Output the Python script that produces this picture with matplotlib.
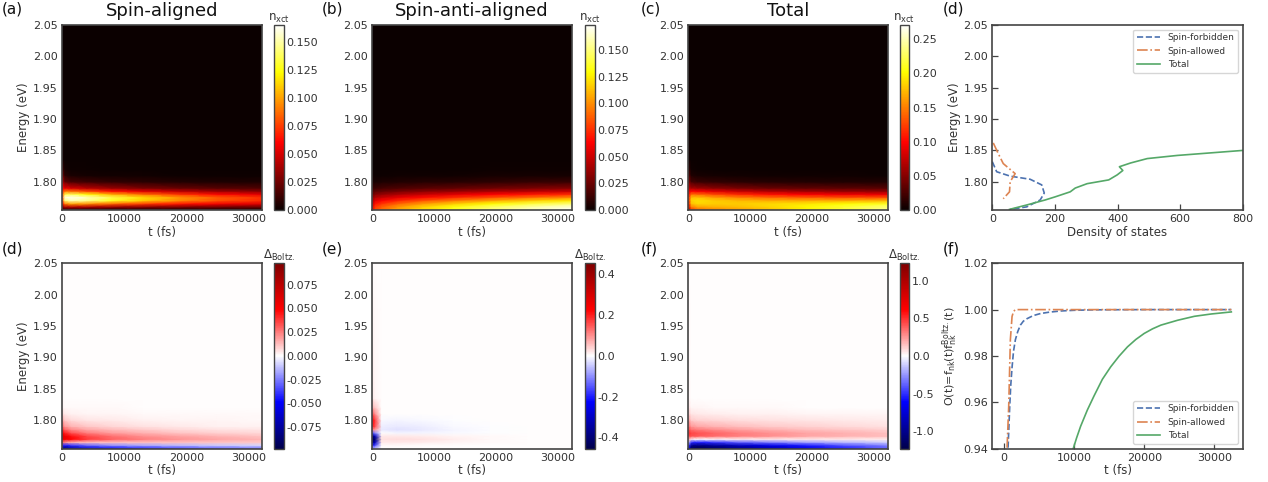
import numpy as np
import matplotlib
matplotlib.use('Agg')
import matplotlib.pyplot as plt
from matplotlib.ticker import FormatStrFormatter

plt.rcParams['font.family'] = ['DejaVu Sans']
plt.rcParams['axes.unicode_minus'] = True

W, H = 1268, 482
TXT = '#333333'
SP = '#444444'

# ---------------- data ----------------
t_nodes = [0, 500, 1500, 4000, 8000, 13000, 19000, 25000, 32200]
E_nodes = [1.755, 1.760, 1.765, 1.770, 1.775, 1.780, 1.785, 1.790,
           1.800, 1.810, 1.820, 1.835, 2.05]

n_aligned = [
    [0.010, 0.008, 0.006, 0.005, 0.004, 0.004, 0.004, 0.004, 0.004],
    [0.030, 0.040, 0.042, 0.040, 0.036, 0.032, 0.029, 0.026, 0.024],
    [0.060, 0.090, 0.100, 0.095, 0.085, 0.075, 0.065, 0.057, 0.052],
    [0.080, 0.140, 0.152, 0.145, 0.128, 0.110, 0.093, 0.080, 0.070],
    [0.085, 0.160, 0.163, 0.155, 0.135, 0.115, 0.097, 0.083, 0.072],
    [0.080, 0.135, 0.138, 0.125, 0.105, 0.088, 0.073, 0.062, 0.054],
    [0.070, 0.090, 0.088, 0.078, 0.064, 0.053, 0.044, 0.037, 0.032],
    [0.060, 0.055, 0.050, 0.043, 0.035, 0.028, 0.023, 0.019, 0.017],
    [0.045, 0.022, 0.016, 0.013, 0.010, 0.008, 0.006, 0.005, 0.005],
    [0.030, 0.008, 0.004, 0.003, 0.002, 0.002, 0.001, 0.001, 0.001],
    [0.015, 0.003, 0.001, 0.001, 0.000, 0.000, 0.000, 0.000, 0.000],
    [0.004, 0.000, 0.000, 0.000, 0.000, 0.000, 0.000, 0.000, 0.000],
    [0.000, 0.000, 0.000, 0.000, 0.000, 0.000, 0.000, 0.000, 0.000],
]

n_anti = [
    [0.060, 0.080, 0.090, 0.105, 0.120, 0.135, 0.150, 0.162, 0.172],
    [0.058, 0.078, 0.088, 0.102, 0.117, 0.131, 0.146, 0.157, 0.166],
    [0.050, 0.068, 0.077, 0.089, 0.103, 0.116, 0.129, 0.140, 0.150],
    [0.042, 0.056, 0.063, 0.073, 0.085, 0.096, 0.107, 0.117, 0.125],
    [0.034, 0.044, 0.049, 0.057, 0.066, 0.075, 0.084, 0.092, 0.100],
    [0.026, 0.032, 0.036, 0.042, 0.049, 0.056, 0.063, 0.069, 0.075],
    [0.019, 0.021, 0.024, 0.028, 0.033, 0.037, 0.042, 0.046, 0.050],
    [0.013, 0.013, 0.015, 0.017, 0.020, 0.023, 0.026, 0.029, 0.032],
    [0.006, 0.004, 0.005, 0.006, 0.007, 0.008, 0.009, 0.011, 0.012],
    [0.003, 0.001, 0.001, 0.002, 0.002, 0.002, 0.003, 0.003, 0.003],
    [0.001, 0.000, 0.000, 0.000, 0.000, 0.000, 0.001, 0.001, 0.001],
    [0.000, 0.000, 0.000, 0.000, 0.000, 0.000, 0.000, 0.000, 0.000],
    [0.000, 0.000, 0.000, 0.000, 0.000, 0.000, 0.000, 0.000, 0.000],
]

n_total = [
    [0.060, 0.120, 0.140, 0.150, 0.160, 0.175, 0.195, 0.215, 0.240],
    [0.080, 0.150, 0.165, 0.170, 0.175, 0.185, 0.200, 0.215, 0.235],
    [0.100, 0.175, 0.185, 0.182, 0.182, 0.187, 0.192, 0.202, 0.212],
    [0.110, 0.185, 0.190, 0.183, 0.175, 0.170, 0.170, 0.170, 0.175],
    [0.110, 0.175, 0.177, 0.165, 0.152, 0.142, 0.137, 0.132, 0.132],
    [0.100, 0.145, 0.142, 0.130, 0.116, 0.105, 0.098, 0.093, 0.091],
    [0.090, 0.100, 0.097, 0.088, 0.077, 0.068, 0.062, 0.058, 0.056],
    [0.075, 0.065, 0.060, 0.052, 0.045, 0.039, 0.035, 0.033, 0.031],
    [0.055, 0.025, 0.020, 0.016, 0.013, 0.011, 0.010, 0.009, 0.009],
    [0.035, 0.009, 0.006, 0.005, 0.004, 0.003, 0.003, 0.003, 0.002],
    [0.018, 0.003, 0.002, 0.001, 0.001, 0.001, 0.001, 0.001, 0.001],
    [0.005, 0.001, 0.000, 0.000, 0.000, 0.000, 0.000, 0.000, 0.000],
    [0.000, 0.000, 0.000, 0.000, 0.000, 0.000, 0.000, 0.000, 0.000],
]

d_aligned = [
    [-0.090, -0.085, -0.075, -0.060, -0.050, -0.042, -0.036, -0.031, -0.027],
    [-0.040, -0.045, -0.040, -0.030, -0.022, -0.017, -0.013, -0.010, -0.008],
    [0.030, 0.020, 0.015, 0.012, 0.012, 0.012, 0.012, 0.011, 0.010],
    [0.060, 0.055, 0.048, 0.038, 0.030, 0.025, 0.020, 0.017, 0.014],
    [0.060, 0.055, 0.045, 0.035, 0.027, 0.021, 0.017, 0.014, 0.011],
    [0.050, 0.042, 0.033, 0.025, 0.019, 0.015, 0.011, 0.009, 0.007],
    [0.040, 0.030, 0.023, 0.017, 0.013, 0.010, 0.007, 0.006, 0.005],
    [0.030, 0.020, 0.015, 0.011, 0.008, 0.006, 0.004, 0.003, 0.003],
    [0.018, 0.010, 0.007, 0.005, 0.004, 0.003, 0.002, 0.002, 0.001],
    [0.008, 0.004, 0.003, 0.002, 0.002, 0.001, 0.001, 0.001, 0.001],
    [0.003, 0.001, 0.001, 0.001, 0.001, 0.000, 0.000, 0.000, 0.000],
    [0.001, 0.000, 0.000, 0.000, 0.000, 0.000, 0.000, 0.000, 0.000],
    [0.000, 0.000, 0.000, 0.000, 0.000, 0.000, 0.000, 0.000, 0.000],
]

d_anti = [
    [-0.05, -0.04, 0.000, 0.000, 0.000, 0.000, 0.000, 0.000, 0.000],
    [-0.20, -0.15, 0.005, 0.005, 0.003, 0.002, 0.001, 0.000, 0.000],
    [-0.38, -0.30, 0.020, 0.020, 0.015, 0.010, 0.004, 0.001, 0.000],
    [-0.45, -0.40, 0.025, 0.030, 0.025, 0.015, 0.006, 0.002, 0.000],
    [-0.40, -0.30, 0.020, 0.020, 0.015, 0.010, 0.004, 0.001, 0.000],
    [-0.15, -0.10, 0.000, -0.010, -0.008, -0.004, -0.001, 0.000, 0.000],
    [0.10, 0.08, -0.020, -0.025, -0.018, -0.008, -0.002, 0.000, 0.000],
    [0.20, 0.15, -0.015, -0.020, -0.015, -0.006, -0.001, 0.000, 0.000],
    [0.22, 0.17, -0.005, -0.008, -0.005, -0.002, 0.000, 0.000, 0.000],
    [0.15, 0.10, 0.000, 0.000, 0.000, 0.000, 0.000, 0.000, 0.000],
    [0.07, 0.05, 0.000, 0.000, 0.000, 0.000, 0.000, 0.000, 0.000],
    [0.02, 0.01, 0.000, 0.000, 0.000, 0.000, 0.000, 0.000, 0.000],
    [0.00, 0.00, 0.000, 0.000, 0.000, 0.000, 0.000, 0.000, 0.000],
]

d_total = [
    [-0.70, -1.15, -1.22, -1.15, -1.02, -0.88, -0.70, -0.55, -0.40],
    [-0.50, -1.00, -1.05, -0.98, -0.85, -0.70, -0.55, -0.42, -0.30],
    [-0.15, -0.50, -0.55, -0.50, -0.40, -0.32, -0.24, -0.18, -0.12],
    [0.20, 0.05, 0.00, 0.02, 0.04, 0.05, 0.05, 0.05, 0.04],
    [0.45, 0.42, 0.40, 0.36, 0.31, 0.27, 0.22, 0.19, 0.16],
    [0.50, 0.45, 0.42, 0.37, 0.31, 0.26, 0.22, 0.19, 0.15],
    [0.45, 0.35, 0.32, 0.28, 0.24, 0.20, 0.16, 0.14, 0.11],
    [0.38, 0.25, 0.22, 0.19, 0.16, 0.13, 0.11, 0.09, 0.07],
    [0.25, 0.13, 0.11, 0.10, 0.08, 0.07, 0.06, 0.05, 0.04],
    [0.14, 0.06, 0.05, 0.04, 0.035, 0.03, 0.025, 0.02, 0.02],
    [0.07, 0.025, 0.02, 0.015, 0.012, 0.01, 0.008, 0.007, 0.006],
    [0.02, 0.005, 0.004, 0.003, 0.002, 0.002, 0.001, 0.001, 0.001],
    [0.00, 0.000, 0.000, 0.000, 0.000, 0.000, 0.000, 0.000, 0.000],
]

# density of states
dos_total_x = [55, 110, 169, 201, 249, 265, 303, 372, 399, 417, 406, 442, 495, 591, 800, 830]
dos_total_E = [1.756, 1.763, 1.771, 1.776, 1.784, 1.790, 1.797, 1.803, 1.811, 1.818,
               1.824, 1.830, 1.837, 1.842, 1.850, 1.851]
dos_forb_x = [0, 14, 57, 121, 158, 166, 153, 110, 57]
dos_forb_E = [1.832, 1.816, 1.809, 1.804, 1.795, 1.782, 1.771, 1.760, 1.756]
dos_allow_x = [3, 19, 35, 73, 57, 55, 35]
dos_allow_E = [1.862, 1.845, 1.829, 1.813, 1.800, 1.784, 1.773]

# overlap O(t)
o_forb_t = [0, 400, 619, 857, 1000, 1190, 1400, 1667, 2000, 2381, 2800, 3333,
            4200, 5238, 6500, 8095, 10000, 12857, 20000, 32400]
o_forb_v = [0.70, 0.90, 0.94, 0.958, 0.967, 0.975, 0.982, 0.987, 0.9905, 0.9933,
            0.9950, 0.9961, 0.9974, 0.9983, 0.9989, 0.9994, 0.9997, 0.9999, 1.0, 1.0]
o_allow_t = [0, 250, 476, 714, 952, 1190, 1400, 1667, 3000, 10000, 32400]
o_allow_v = [0.70, 0.90, 0.94, 0.958, 0.987, 0.997, 0.9992, 1.0, 1.0, 1.0, 1.0]
o_tot_t = [8500, 9905, 10381, 10952, 11905, 12857, 14048, 15238, 16429, 17619,
           18810, 20000, 21190, 22381, 24762, 27143, 29524, 32400]
o_tot_v = [0.92, 0.94, 0.9446, 0.9496, 0.9566, 0.9627, 0.9699, 0.9753, 0.9799,
           0.9839, 0.9871, 0.9897, 0.9917, 0.9933, 0.9954, 0.9971, 0.9981, 0.999]

E_ticks = [1.80, 1.85, 1.90, 1.95, 2.00, 2.05]
t_ticks = [0, 10000, 20000, 30000]

# ---------------- layout helpers ----------------
fig = plt.figure(figsize=(W / 100, H / 100), dpi=100)


def px_axes(l, t, r, b):
    return fig.add_axes([l / W, 1 - b / H, (r - l) / W, (b - t) / H])


def style(ax, ticklen=0):
    for s in ax.spines.values():
        s.set_color(SP)
        s.set_linewidth(1.2)
    ax.tick_params(direction='in', length=ticklen, width=0.9, color=SP,
                   labelsize=8, labelcolor=TXT, pad=3)


ROW = [(25, 210), (263.3, 448.5)]
COLS = [(62, 262, 274, 283.5), (372.3, 571.7, 585, 594.5), (688.3, 887.7, 899.7, 909.3)]

heat = [
    (0, 0, n_aligned, 'hot', 0, 0.165, np.arange(0, 0.151, 0.025), '%.3f', r'n$_{\rm xct}$'),
    (0, 1, n_anti, 'hot', 0, 0.1734, np.arange(0, 0.151, 0.025), '%.3f', r'n$_{\rm xct}$'),
    (0, 2, n_total, 'hot', 0, 0.271, np.arange(0, 0.251, 0.05), '%.2f', r'n$_{\rm xct}$'),
    (1, 0, d_aligned, 'seismic', -0.0975, 0.0975, np.arange(-0.075, 0.076, 0.025), '%.3f', r'$\Delta_{\rm Boltz.}$'),
    (1, 1, d_anti, 'seismic', -0.454, 0.454, np.arange(-0.4, 0.41, 0.2), '%.1f', r'$\Delta_{\rm Boltz.}$'),
    (1, 2, d_total, 'seismic', -1.23, 1.23, np.arange(-1.0, 1.01, 0.5), '%.1f', r'$\Delta_{\rm Boltz.}$'),
]

for (r, c, Z, cmap, vmin, vmax, cticks, cfmt, clab) in heat:
    top, bot = ROW[r]
    l, rr, cl, cr = COLS[c]
    ax = px_axes(l, top, rr, bot)
    m = ax.pcolormesh(np.array(t_nodes), np.array(E_nodes), np.array(Z),
                      shading='gouraud', cmap=cmap, vmin=vmin, vmax=vmax,
                      rasterized=True)
    ax.set_xlim(0, 32200)
    ax.set_ylim(1.755, 2.05)
    ax.set_yticks(E_ticks)
    ax.set_xticks(t_ticks)
    ax.yaxis.set_major_formatter(FormatStrFormatter('%.2f'))
    style(ax, 0)
    ax.set_xlabel('t (fs)', fontsize=8.5, color=TXT, labelpad=1)
    if c == 0:
        ax.set_ylabel('Energy (eV)', fontsize=8.5, color=TXT, labelpad=2)
    cax = px_axes(cl, top, cr, bot)
    cb = fig.colorbar(m, cax=cax)
    cb.set_ticks(cticks)
    cb.ax.yaxis.set_major_formatter(FormatStrFormatter(cfmt))
    cb.ax.tick_params(length=0, labelsize=8, labelcolor=TXT, pad=2)
    cb.outline.set_edgecolor(SP)
    cb.outline.set_linewidth(1.0)
    cb.ax.set_title(clab, fontsize=8.5, color=TXT, pad=2)

titles = ['Spin-aligned', 'Spin-anti-aligned', 'Total']
for c, ttl in enumerate(titles):
    l, rr, _, _ = COLS[c]
    fig.text(((l + rr) / 2) / W, 1 - 16.5 / H, ttl, ha='center', va='baseline',
             fontsize=13, color='#111111')

C_BLUE, C_ORANGE, C_GREEN = '#4C72B0', '#DD8452', '#55A868'

# DOS panel
axd = px_axes(992.3, 25, 1242.7, 210)
axd.plot(dos_forb_x, dos_forb_E, '--', color=C_BLUE, lw=1.2, label='Spin-forbidden')
axd.plot(dos_allow_x, dos_allow_E, '-.', color=C_ORANGE, lw=1.2, label='Spin-allowed')
axd.plot(dos_total_x, dos_total_E, '-', color=C_GREEN, lw=1.2, label='Total')
axd.set_xlim(0, 800)
axd.set_ylim(1.755, 2.05)
axd.set_xticks([0, 200, 400, 600, 800])
axd.set_yticks(E_ticks)
axd.yaxis.set_major_formatter(FormatStrFormatter('%.2f'))
style(axd, 4)
axd.set_xlabel('Density of states', fontsize=8.5, color=TXT, labelpad=1)
axd.set_ylabel('Energy (eV)', fontsize=8.5, color=TXT, labelpad=2)
leg = axd.legend(loc='upper right', fontsize=6.5, frameon=True, handlelength=2.6,
                 borderaxespad=0.5)
leg.get_frame().set_edgecolor('#cccccc')
for tx in leg.get_texts():
    tx.set_color(TXT)

# O(t) panel
axo = px_axes(992.3, 263.3, 1242.7, 448.5)
axo.plot(o_forb_t, o_forb_v, '--', color=C_BLUE, lw=1.2, label='Spin-forbidden')
axo.plot(o_allow_t, o_allow_v, '-.', color=C_ORANGE, lw=1.2, label='Spin-allowed')
axo.plot(o_tot_t, o_tot_v, '-', color=C_GREEN, lw=1.2, label='Total')
axo.set_xlim(-1620, 34020)
axo.set_ylim(0.94, 1.02)
axo.set_xticks(t_ticks)
axo.set_yticks([0.94, 0.96, 0.98, 1.00, 1.02])
axo.yaxis.set_major_formatter(FormatStrFormatter('%.2f'))
style(axo, 4)
axo.set_xlabel('t (fs)', fontsize=8.5, color=TXT, labelpad=1)
axo.set_ylabel(r'O(t)=f$_{\rm nk}$(t)f$_{\rm nk}^{\rm Boltz.}$(t)', fontsize=8,
               color=TXT, labelpad=2)
leg2 = axo.legend(loc='lower right', fontsize=6.5, frameon=True, handlelength=2.6,
                  borderaxespad=0.5)
leg2.get_frame().set_edgecolor('#cccccc')
for tx in leg2.get_texts():
    tx.set_color(TXT)

# panel labels
plabels = [('(a)', 2, 0), ('(b)', 322, 0), ('(c)', 641, 0), ('(d)', 943, 0),
           ('(d)', 2, 240), ('(e)', 322, 240), ('(f)', 641, 240), ('(f)', 943, 240)]
for s, x, y in plabels:
    fig.text(x / W, 1 - (y + 1) / H, s, ha='left', va='top', fontsize=11, color='#111111')

fig.savefig('out.png', dpi=100)
